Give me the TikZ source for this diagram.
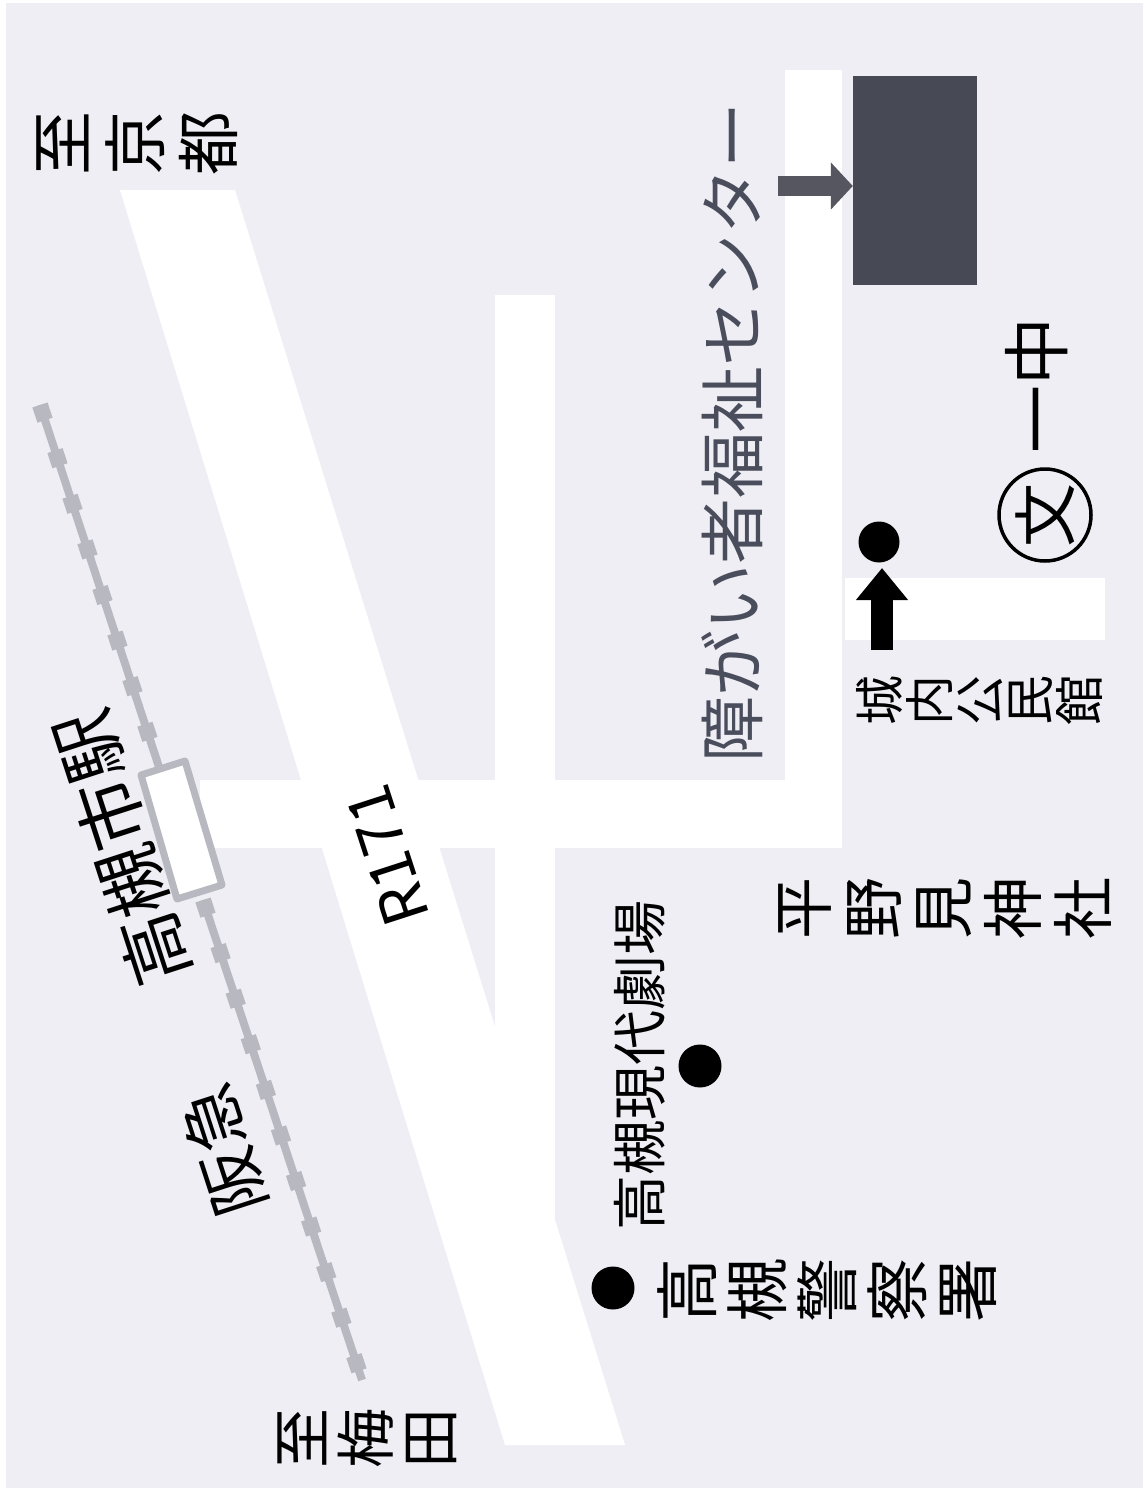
\documentclass[tikz,border=0pt]{standalone}
\usepackage{fontspec}
\setmainfont{Noto Sans CJK JP}
\usetikzlibrary{arrows.meta}
\definecolor{bgc}{HTML}{EFEEF4}
\definecolor{bldg}{HTML}{474A54}
\definecolor{arrowgrey}{HTML}{55565F}
\definecolor{rail}{HTML}{B8B8C0}
\definecolor{labelgrey}{HTML}{4A4D5C}
\tikzset{
  road/.style={fill=white,draw=none},
  lbl/.style={inner sep=0pt,outer sep=0pt,rotate=90,align=center,text=black},
  railline/.style={draw=rail,line width=8pt},
  railknob/.style={draw=rail,line width=16pt,dash pattern=on 16pt off 32pt},
  dot/.style={circle,fill=black,inner sep=0pt},
}
\newcommand{\fs}[2]{\fontsize{#1}{#2}\selectfont}
\begin{document}
\begin{tikzpicture}[x=1pt,y=-1pt]
\useasboundingbox (0,0) rectangle (1143,1488);
\fill[white] (0,0) rectangle (1143,1488);
\fill[bgc] (6,3) rectangle (1143,1488);
% roads
\fill[road] (120,190) -- (235,190) -- (625,1445) -- (505,1445) -- cycle;
\fill[road] (495,295) rectangle (555,1240);
\fill[road] (200,780) rectangle (842,848);
\fill[road] (785,70) rectangle (842,848);
\fill[road] (845,578) rectangle (1105,640);
% railway
\coordinate (r1) at (40,405);
\coordinate (r2) at (160,770);
\coordinate (r3) at (203,900);
\coordinate (r4) at (362,1380);
\draw[railline] (r1) -- (r2);
\draw[railknob] (r1) -- (r2);
\draw[railline] (r3) -- (r4);
\draw[railknob] (r3) -- (r4);
\filldraw[fill=white,draw=rail,line width=7pt,line join=round] (141,775) -- (185,761) -- (222,885) -- (177,899) -- cycle;
% building
\node[fill=bldg,minimum width=124pt,minimum height=209pt,inner sep=0pt] (center) at (915,180.5) {};
\coordinate (ga) at (778,186);
\draw[arrowgrey,line width=20pt,-{Triangle[length=22pt,width=46pt]}] (ga) -- (center.west |- ga);
% dots and arrow
\node[dot,minimum size=41pt] (d1) at (879,542) {};
\coordinate (ab) at (882,650);
\draw[black,line width=22pt,-{Triangle[length=32pt,width=50pt]}] (ab) -- (882,568);
\node[dot,minimum size=43pt] (d2) at (700,1066) {};
\node[dot,minimum size=43pt] (d3) at (613,1288) {};
% labels
\node[lbl,font=\fs{64}{73}] (kyoto) at (137,143) {至\\京\\都};
\node[lbl,font=\fs{60}{64}] (umeda) at (367,1438) {至\\梅\\田};
\node[lbl,font=\fs{66}{66},text=labelgrey] (fukushi) at (732,432) {障がい者福祉センター};
\node[lbl,font=\fs{50}{50}] (jonai) at (979,700) {城\\内\\公\\民\\館};
\node[lbl,font=\fs{62}{70}] (hirano) at (945,908) {平\\野\\見\\神\\社};
\node[lbl,font=\fs{64}{70}] (police) at (827,1290) {高\\槻\\警\\察\\署};
\node[lbl,font=\fs{55}{55}] (theater) at (640,1065) {高槻現代劇場};
\node[lbl,font=\fs{71}{71},rotate=18] (station) at (122,848) {高槻市駅};
\node[lbl,font=\fs{66}{66},rotate=18] (hankyu) at (223,1150) {阪急};
\node[lbl,font=\fs{62}{62},rotate=18] (r171) at (387,856) {R171};
\node[lbl,font=\fs{68}{68}] (ichi) at (1037,385) {一中};
\node[circle,draw=black,line width=3.5pt,minimum size=92pt,inner sep=0pt,font=\fs{64}{64},rotate=90] (bun) at (1045,515) {文};
\end{tikzpicture}
\end{document}
